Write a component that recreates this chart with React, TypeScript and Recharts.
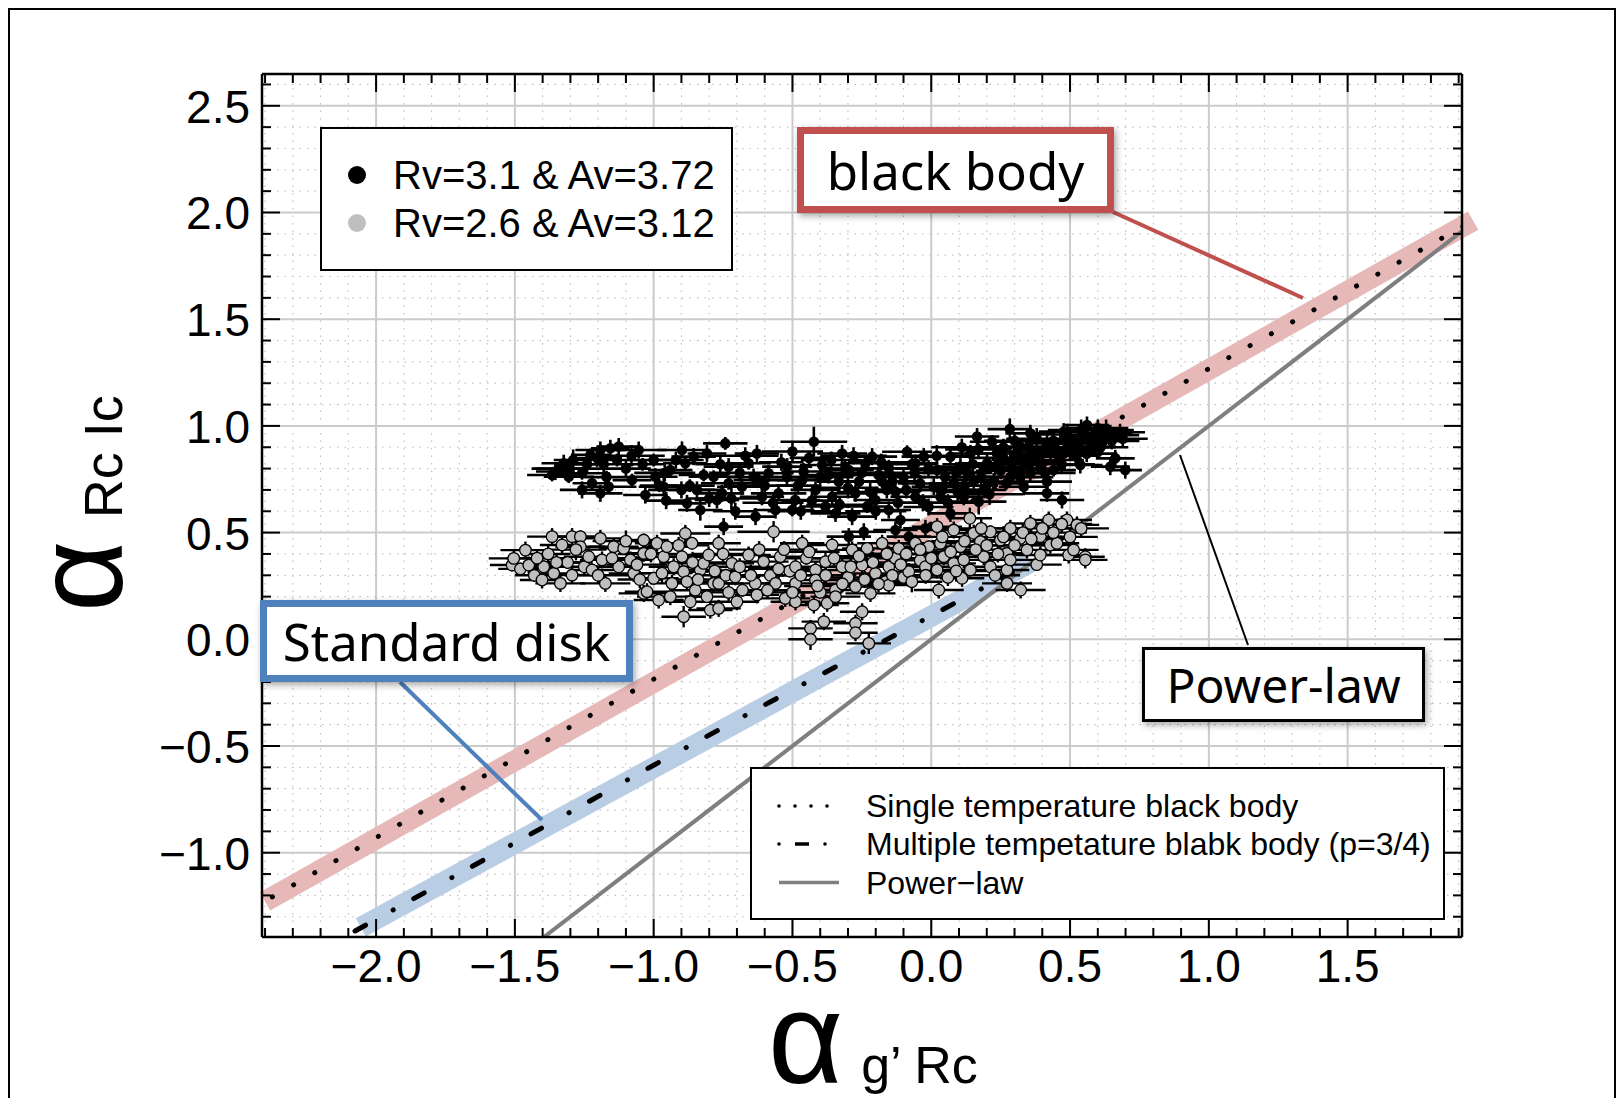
import React from 'react'
import { ComposedChart, XAxis, YAxis, Scatter, Line, ErrorBar, ReferenceLine } from 'recharts'

// axis ranges
const xDomain = [-2.411, 1.912]
const yDomain = [-1.395, 2.649]

const xTicks = [
  -2.4, -2.3, -2.2, -2.1, -2.0, -1.9, -1.8, -1.7, -1.6, -1.5, -1.4, -1.3, -1.2, -1.1, -1.0,
  -0.9, -0.8, -0.7, -0.6, -0.5, -0.4, -0.3, -0.2, -0.1, 0.0, 0.1, 0.2, 0.3, 0.4, 0.5, 0.6,
  0.7, 0.8, 0.9, 1.0, 1.1, 1.2, 1.3, 1.4, 1.5, 1.6, 1.7, 1.8, 1.9,
]
const yTicks = [
  -1.3, -1.2, -1.1, -1.0, -0.9, -0.8, -0.7, -0.6, -0.5, -0.4, -0.3, -0.2, -0.1, 0.0, 0.1,
  0.2, 0.3, 0.4, 0.5, 0.6, 0.7, 0.8, 0.9, 1.0, 1.1, 1.2, 1.3, 1.4, 1.5, 1.6, 1.7, 1.8, 1.9,
  2.0, 2.1, 2.2, 2.3, 2.4, 2.5, 2.6,
]

// [alpha g'Rc, alpha Rc Ic, x err, y err]  Rv=3.1 & Av=3.72
const rv31 = [
  [-1.366, 0.770, 0.09, 0.03], [-1.354, 0.786, 0.07, 0.04], [-1.340, 0.800, 0.10, 0.03],
  [-1.324, 0.825, 0.08, 0.04], [-1.306, 0.762, 0.09, 0.03], [-1.290, 0.840, 0.07, 0.05],
  [-1.258, 0.700, 0.08, 0.04], [-1.258, 0.778, 0.10, 0.03], [-1.240, 0.820, 0.08, 0.04],
  [-1.222, 0.731, 0.07, 0.03], [-1.204, 0.848, 0.09, 0.04], [-1.192, 0.684, 0.08, 0.04],
  [-1.228, 0.864, 0.07, 0.03], [-1.192, 0.887, 0.09, 0.04], [-1.170, 0.760, 0.08, 0.03],
  [-1.156, 0.895, 0.07, 0.04], [-1.162, 0.715, 0.10, 0.03], [-1.132, 0.840, 0.08, 0.03],
  [-1.126, 0.903, 0.08, 0.04], [-1.100, 0.800, 0.09, 0.04], [-1.078, 0.746, 0.07, 0.03],
  [-1.054, 0.887, 0.10, 0.04], [-1.040, 0.820, 0.08, 0.03], [-1.030, 0.676, 0.08, 0.04],
  [-1.000, 0.840, 0.09, 0.03], [-0.994, 0.762, 0.08, 0.04], [-0.980, 0.720, 0.07, 0.03],
  [-0.964, 0.715, 0.09, 0.04], [-0.955, 0.650, 0.08, 0.04], [-0.940, 0.793, 0.08, 0.03],
  [-0.920, 0.840, 0.10, 0.04], [-0.898, 0.887, 0.09, 0.04], [-0.886, 0.825, 0.08, 0.03],
  [-0.880, 0.637, 0.07, 0.04], [-0.870, 0.720, 0.09, 0.03], [-0.856, 0.856, 0.08, 0.04],
  [-0.844, 0.700, 0.10, 0.04], [-0.832, 0.606, 0.08, 0.05], [-0.820, 0.770, 0.09, 0.03],
  [-0.808, 0.871, 0.07, 0.04], [-0.800, 0.660, 0.08, 0.04], [-0.784, 0.762, 0.09, 0.03],
  [-0.772, 0.653, 0.08, 0.04], [-0.760, 0.820, 0.09, 0.04], [-0.754, 0.684, 0.08, 0.04],
  [-0.748, 0.528, 0.07, 0.04], [-0.742, 0.918, 0.08, 0.03], [-0.730, 0.809, 0.09, 0.04],
  [-0.730, 0.731, 0.10, 0.03], [-0.706, 0.600, 0.08, 0.04], [-0.682, 0.715, 0.09, 0.04],
  [-0.658, 0.825, 0.08, 0.03], [-0.640, 0.760, 0.09, 0.04], [-0.633, 0.575, 0.07, 0.04],
  [-0.628, 0.871, 0.08, 0.04], [-0.622, 0.746, 0.09, 0.03], [-0.610, 0.668, 0.08, 0.04],
  [-0.586, 0.778, 0.09, 0.04], [-0.561, 0.606, 0.08, 0.04], [-0.550, 0.684, 0.10, 0.03],
  [-0.540, 0.830, 0.08, 0.04], [-0.519, 0.809, 0.09, 0.04], [-0.501, 0.606, 0.08, 0.03],
  [-0.490, 0.653, 0.09, 0.04], [-0.480, 0.720, 0.08, 0.04], [-0.465, 0.746, 0.09, 0.03],
  [-0.460, 0.786, 0.08, 0.04], [-0.440, 0.850, 0.07, 0.03], [-0.423, 0.926, 0.12, 0.07],
  [-0.417, 0.700, 0.09, 0.04], [-0.393, 0.817, 0.08, 0.04], [-0.381, 0.622, 0.09, 0.03],
  [-0.370, 0.770, 0.10, 0.04], [-0.357, 0.668, 0.08, 0.04], [-0.345, 0.590, 0.09, 0.04],
  [-0.333, 0.739, 0.08, 0.03], [-0.321, 0.871, 0.09, 0.04], [-0.310, 0.800, 0.08, 0.04],
  [-0.297, 0.793, 0.09, 0.03], [-0.297, 0.481, 0.08, 0.04], [-0.285, 0.575, 0.09, 0.04],
  [-0.273, 0.684, 0.08, 0.04], [-0.260, 0.740, 0.09, 0.03], [-0.243, 0.504, 0.08, 0.04],
  [-0.237, 0.825, 0.09, 0.04], [-0.231, 0.622, 0.08, 0.03], [-0.213, 0.856, 0.09, 0.04],
  [-0.201, 0.653, 0.08, 0.04], [-0.190, 0.770, 0.10, 0.04], [-0.177, 0.739, 0.09, 0.03],
  [-0.160, 0.700, 0.08, 0.04], [-0.153, 0.801, 0.09, 0.04], [-0.153, 0.606, 0.08, 0.04],
  [-0.129, 0.692, 0.09, 0.03], [-0.129, 0.512, 0.08, 0.04], [-0.111, 0.559, 0.07, 0.04],
  [-0.100, 0.760, 0.08, 0.04], [-0.087, 0.879, 0.09, 0.03], [-0.081, 0.481, 0.08, 0.04],
  [-0.070, 0.820, 0.09, 0.04], [-0.057, 0.825, 0.08, 0.04], [-0.057, 0.668, 0.09, 0.03],
  [-0.040, 0.730, 0.08, 0.04], [-0.027, 0.856, 0.08, 0.04], [-0.021, 0.520, 0.08, 0.04],
  [-0.010, 0.620, 0.09, 0.04], [0.009, 0.715, 0.08, 0.04], [0.021, 0.793, 0.09, 0.04],
  [0.033, 0.668, 0.08, 0.03], [0.050, 0.760, 0.09, 0.04], [0.069, 0.856, 0.08, 0.04],
  [0.069, 0.590, 0.08, 0.04], [0.081, 0.731, 0.09, 0.03], [0.095, 0.690, 0.08, 0.04],
  [0.105, 0.809, 0.09, 0.04], [0.117, 0.668, 0.08, 0.04], [0.130, 0.780, 0.09, 0.03],
  [0.141, 0.871, 0.08, 0.04], [0.153, 0.746, 0.09, 0.04], [0.165, 0.950, 0.08, 0.04],
  [0.171, 0.645, 0.10, 0.06], [0.190, 0.700, 0.08, 0.04], [0.201, 0.825, 0.09, 0.04],
  [0.219, 0.926, 0.08, 0.03], [0.225, 0.739, 0.09, 0.04], [0.237, 0.871, 0.08, 0.04],
  [0.250, 0.790, 0.09, 0.04], [0.270, 0.730, 0.08, 0.03], [0.283, 0.985, 0.08, 0.05],
  [0.285, 0.762, 0.09, 0.04], [0.297, 0.840, 0.08, 0.04], [0.310, 0.880, 0.09, 0.04],
  [0.321, 0.903, 0.08, 0.04], [0.333, 0.715, 0.09, 0.04], [0.340, 0.820, 0.08, 0.03],
  [0.357, 0.965, 0.09, 0.04], [0.357, 0.778, 0.08, 0.04], [0.370, 0.860, 0.09, 0.04],
  [0.381, 0.856, 0.08, 0.04], [0.395, 0.800, 0.09, 0.03], [0.417, 0.918, 0.08, 0.04],
  [0.417, 0.739, 0.09, 0.04], [0.417, 0.684, 0.08, 0.04], [0.430, 0.880, 0.09, 0.04],
  [0.441, 0.793, 0.08, 0.03], [0.460, 0.840, 0.09, 0.04], [0.471, 0.653, 0.08, 0.04],
  [0.477, 0.973, 0.09, 0.04], [0.477, 0.871, 0.08, 0.04], [0.495, 0.920, 0.09, 0.03],
  [0.513, 0.918, 0.08, 0.04], [0.520, 0.860, 0.09, 0.04], [0.537, 0.817, 0.08, 0.04],
  [0.550, 0.950, 0.09, 0.04], [0.561, 1.004, 0.08, 0.04], [0.575, 0.900, 0.09, 0.03],
  [0.585, 0.903, 0.08, 0.04], [0.600, 0.950, 0.08, 0.04], [0.620, 0.930, 0.09, 0.04],
  [0.645, 0.965, 0.08, 0.04], [0.645, 0.809, 0.07, 0.04], [0.663, 0.848, 0.07, 0.04],
  [0.669, 0.957, 0.08, 0.03], [0.699, 0.793, 0.06, 0.04],
  [-1.310, 0.800, 0.12, 0.04], [-1.180, 0.820, 0.11, 0.04], [-1.080, 0.860, 0.12, 0.05],
  [-0.960, 0.780, 0.11, 0.04], [-0.900, 0.700, 0.12, 0.04], [-0.720, 0.660, 0.12, 0.05],
  [-0.690, 0.780, 0.11, 0.04], [-0.670, 0.860, 0.12, 0.04], [-0.600, 0.720, 0.12, 0.05],
  [-0.570, 0.640, 0.11, 0.04], [-0.520, 0.760, 0.12, 0.04], [-0.500, 0.880, 0.11, 0.05],
  [-0.470, 0.600, 0.12, 0.04], [-0.430, 0.650, 0.11, 0.04], [-0.400, 0.760, 0.12, 0.05],
  [-0.360, 0.840, 0.11, 0.04], [-0.330, 0.630, 0.12, 0.04], [-0.300, 0.710, 0.11, 0.05],
  [-0.280, 0.860, 0.12, 0.04], [-0.250, 0.780, 0.11, 0.04], [-0.220, 0.690, 0.12, 0.05],
  [-0.200, 0.600, 0.11, 0.04], [-0.180, 0.830, 0.12, 0.04], [-0.140, 0.740, 0.11, 0.05],
  [-0.120, 0.640, 0.12, 0.04], [-0.090, 0.700, 0.11, 0.04], [-0.060, 0.780, 0.12, 0.05],
  [-0.030, 0.640, 0.11, 0.04], [-0.010, 0.800, 0.12, 0.04], [0.020, 0.860, 0.11, 0.05],
  [0.040, 0.700, 0.12, 0.04], [0.060, 0.640, 0.11, 0.04], [0.090, 0.780, 0.12, 0.05],
  [0.110, 0.900, 0.11, 0.04], [0.120, 0.720, 0.12, 0.04], [0.150, 0.820, 0.11, 0.05],
  [0.170, 0.890, 0.12, 0.04], [0.180, 0.760, 0.11, 0.04], [0.210, 0.680, 0.12, 0.05],
  [0.230, 0.810, 0.11, 0.04], [0.260, 0.900, 0.12, 0.04], [0.260, 0.850, 0.11, 0.05],
  [0.290, 0.800, 0.12, 0.04], [0.300, 0.930, 0.11, 0.04], [0.320, 0.760, 0.12, 0.05],
  [0.350, 0.900, 0.11, 0.04], [0.360, 0.830, 0.12, 0.04], [0.380, 0.940, 0.11, 0.05],
  [0.400, 0.870, 0.12, 0.04], [0.410, 0.780, 0.11, 0.04], [0.440, 0.930, 0.12, 0.05],
  [0.450, 0.890, 0.11, 0.04], [0.470, 0.820, 0.12, 0.04], [0.490, 0.960, 0.11, 0.05],
  [0.500, 0.880, 0.12, 0.04], [0.530, 0.900, 0.11, 0.04], [0.540, 0.980, 0.12, 0.05],
  [0.560, 0.870, 0.11, 0.04], [0.580, 0.940, 0.12, 0.04], [0.600, 0.990, 0.11, 0.04],
  [0.610, 0.900, 0.10, 0.04], [0.630, 0.980, 0.10, 0.05], [0.650, 0.930, 0.10, 0.04],
  [0.680, 0.970, 0.09, 0.04], [0.690, 0.940, 0.09, 0.04],
]

// Rv=2.6 & Av=3.12
const rv26 = [
  [-1.510, 0.348, 0.08, 0.03], [-1.504, 0.379, 0.09, 0.04], [-1.480, 0.330, 0.08, 0.03],
  [-1.462, 0.418, 0.09, 0.04], [-1.450, 0.348, 0.08, 0.04], [-1.430, 0.300, 0.07, 0.03],
  [-1.402, 0.278, 0.08, 0.04], [-1.396, 0.340, 0.09, 0.03], [-1.380, 0.400, 0.08, 0.04],
  [-1.366, 0.481, 0.09, 0.04], [-1.360, 0.309, 0.08, 0.03], [-1.336, 0.262, 0.09, 0.04],
  [-1.330, 0.442, 0.08, 0.04], [-1.310, 0.360, 0.09, 0.03], [-1.294, 0.481, 0.08, 0.04],
  [-1.294, 0.301, 0.09, 0.04], [-1.264, 0.481, 0.08, 0.03], [-1.264, 0.434, 0.09, 0.04],
  [-1.250, 0.340, 0.08, 0.04], [-1.234, 0.387, 0.09, 0.04], [-1.222, 0.325, 0.08, 0.03],
  [-1.192, 0.473, 0.09, 0.04], [-1.186, 0.372, 0.08, 0.04], [-1.174, 0.262, 0.09, 0.04],
  [-1.144, 0.434, 0.09, 0.04], [-1.126, 0.340, 0.08, 0.04], [-1.108, 0.426, 0.09, 0.03],
  [-1.084, 0.372, 0.08, 0.04], [-1.072, 0.309, 0.09, 0.04], [-1.050, 0.280, 0.08, 0.04],
  [-1.036, 0.465, 0.09, 0.03], [-1.036, 0.403, 0.08, 0.04], [-1.036, 0.215, 0.09, 0.04],
  [-1.024, 0.223, 0.08, 0.04], [-1.000, 0.286, 0.09, 0.03], [-0.988, 0.450, 0.08, 0.04],
  [-0.982, 0.184, 0.09, 0.04], [-0.964, 0.387, 0.08, 0.04], [-0.952, 0.434, 0.09, 0.03],
  [-0.934, 0.262, 0.08, 0.04], [-0.928, 0.340, 0.09, 0.04], [-0.898, 0.387, 0.08, 0.04],
  [-0.892, 0.317, 0.09, 0.03], [-0.892, 0.106, 0.08, 0.05], [-0.886, 0.496, 0.09, 0.04],
  [-0.880, 0.270, 0.08, 0.04], [-0.868, 0.176, 0.09, 0.04], [-0.862, 0.450, 0.08, 0.03],
  [-0.850, 0.230, 0.09, 0.04], [-0.832, 0.325, 0.08, 0.04], [-0.820, 0.356, 0.09, 0.04],
  [-0.808, 0.200, 0.08, 0.03], [-0.802, 0.395, 0.09, 0.04], [-0.796, 0.137, 0.08, 0.04],
  [-0.784, 0.262, 0.09, 0.04], [-0.766, 0.450, 0.08, 0.04], [-0.766, 0.262, 0.09, 0.04],
  [-0.766, 0.145, 0.08, 0.04], [-0.740, 0.300, 0.09, 0.03], [-0.718, 0.356, 0.08, 0.04],
  [-0.706, 0.293, 0.09, 0.04], [-0.700, 0.176, 0.08, 0.04], [-0.680, 0.230, 0.09, 0.03],
  [-0.658, 0.395, 0.08, 0.04], [-0.634, 0.262, 0.09, 0.04], [-0.628, 0.208, 0.08, 0.04],
  [-0.604, 0.364, 0.09, 0.03], [-0.580, 0.300, 0.08, 0.04], [-0.568, 0.504, 0.13, 0.05],
  [-0.561, 0.262, 0.09, 0.04], [-0.544, 0.387, 0.08, 0.04], [-0.526, 0.192, 0.09, 0.04],
  [-0.510, 0.320, 0.08, 0.03], [-0.489, 0.340, 0.09, 0.04], [-0.489, 0.262, 0.08, 0.04],
  [-0.489, 0.176, 0.09, 0.04], [-0.465, 0.450, 0.08, 0.04], [-0.450, 0.380, 0.09, 0.03],
  [-0.435, 0.051, 0.08, 0.04], [-0.435, 0.000, 0.08, 0.05], [-0.423, 0.161, 0.09, 0.04],
  [-0.417, 0.325, 0.08, 0.04], [-0.417, 0.278, 0.09, 0.04], [-0.400, 0.220, 0.08, 0.03],
  [-0.387, 0.083, 0.08, 0.04], [-0.381, 0.364, 0.09, 0.04], [-0.375, 0.169, 0.08, 0.04],
  [-0.357, 0.442, 0.09, 0.04], [-0.345, 0.231, 0.08, 0.03], [-0.345, 0.200, 0.09, 0.04],
  [-0.321, 0.340, 0.08, 0.04], [-0.300, 0.290, 0.09, 0.04], [-0.285, 0.419, 0.08, 0.04],
  [-0.273, 0.247, 0.09, 0.03], [-0.273, 0.075, 0.08, 0.04], [-0.273, 0.031, 0.08, 0.04],
  [-0.249, 0.348, 0.09, 0.04], [-0.249, 0.129, 0.08, 0.04], [-0.231, 0.426, 0.09, 0.03],
  [-0.225, -0.019, 0.08, 0.05], [-0.219, 0.215, 0.09, 0.04], [-0.201, 0.309, 0.08, 0.04],
  [-0.177, 0.450, 0.09, 0.04], [-0.165, 0.270, 0.08, 0.03], [-0.153, 0.340, 0.09, 0.04],
  [-0.153, 0.254, 0.08, 0.04], [-0.130, 0.380, 0.09, 0.04], [-0.117, 0.426, 0.08, 0.04],
  [-0.100, 0.290, 0.09, 0.03], [-0.081, 0.317, 0.08, 0.04], [-0.057, 0.450, 0.09, 0.04],
  [-0.040, 0.370, 0.08, 0.04], [-0.021, 0.340, 0.09, 0.04], [-0.009, 0.434, 0.08, 0.03],
  [0.021, 0.528, 0.09, 0.04], [0.021, 0.325, 0.08, 0.04], [0.027, 0.231, 0.09, 0.04],
  [0.033, 0.450, 0.08, 0.03], [0.045, 0.387, 0.09, 0.04], [0.060, 0.290, 0.08, 0.04],
  [0.081, 0.512, 0.09, 0.04], [0.081, 0.356, 0.08, 0.03], [0.105, 0.434, 0.09, 0.04],
  [0.111, 0.286, 0.08, 0.04], [0.117, 0.372, 0.09, 0.04], [0.139, 0.567, 0.08, 0.05],
  [0.141, 0.325, 0.09, 0.03], [0.153, 0.497, 0.08, 0.04], [0.177, 0.458, 0.09, 0.04],
  [0.189, 0.387, 0.08, 0.04], [0.213, 0.504, 0.09, 0.03], [0.213, 0.340, 0.08, 0.04],
  [0.230, 0.300, 0.09, 0.04], [0.249, 0.465, 0.08, 0.04], [0.273, 0.403, 0.09, 0.03],
  [0.273, 0.325, 0.08, 0.04], [0.273, 0.262, 0.09, 0.04], [0.285, 0.520, 0.08, 0.04],
  [0.285, 0.372, 0.09, 0.04], [0.321, 0.473, 0.08, 0.03], [0.322, 0.231, 0.09, 0.04],
  [0.345, 0.419, 0.09, 0.04], [0.357, 0.543, 0.08, 0.04], [0.380, 0.350, 0.09, 0.03],
  [0.393, 0.481, 0.08, 0.04], [0.393, 0.395, 0.09, 0.04], [0.423, 0.559, 0.08, 0.04],
  [0.429, 0.442, 0.09, 0.04], [0.453, 0.450, 0.08, 0.03], [0.489, 0.559, 0.09, 0.04],
  [0.495, 0.395, 0.08, 0.04], [0.513, 0.419, 0.09, 0.04], [0.525, 0.536, 0.08, 0.04],
  [0.555, 0.387, 0.07, 0.04], [0.555, 0.372, 0.08, 0.04],
  [-1.420, 0.380, 0.11, 0.04], [-1.350, 0.360, 0.12, 0.04], [-1.280, 0.420, 0.11, 0.05],
  [-1.200, 0.300, 0.12, 0.04], [-1.150, 0.380, 0.11, 0.04], [-1.100, 0.460, 0.12, 0.05],
  [-1.060, 0.350, 0.11, 0.04], [-1.010, 0.400, 0.12, 0.04], [-0.970, 0.310, 0.11, 0.05],
  [-0.940, 0.200, 0.12, 0.04], [-0.910, 0.440, 0.11, 0.04], [-0.860, 0.360, 0.12, 0.05],
  [-0.840, 0.280, 0.11, 0.04], [-0.780, 0.320, 0.12, 0.04], [-0.750, 0.400, 0.11, 0.05],
  [-0.730, 0.220, 0.12, 0.04], [-0.690, 0.340, 0.11, 0.04], [-0.650, 0.300, 0.12, 0.05],
  [-0.620, 0.420, 0.11, 0.04], [-0.590, 0.230, 0.12, 0.04], [-0.550, 0.330, 0.11, 0.05],
  [-0.530, 0.420, 0.12, 0.04], [-0.500, 0.220, 0.11, 0.04], [-0.470, 0.300, 0.12, 0.05],
  [-0.440, 0.410, 0.11, 0.04], [-0.410, 0.250, 0.12, 0.04], [-0.380, 0.300, 0.11, 0.05],
  [-0.350, 0.380, 0.12, 0.04], [-0.320, 0.260, 0.11, 0.04], [-0.290, 0.340, 0.12, 0.05],
  [-0.260, 0.390, 0.11, 0.04], [-0.240, 0.280, 0.12, 0.04], [-0.210, 0.360, 0.11, 0.05],
  [-0.190, 0.260, 0.12, 0.04], [-0.160, 0.400, 0.11, 0.04], [-0.140, 0.300, 0.12, 0.05],
  [-0.110, 0.350, 0.11, 0.04], [-0.090, 0.400, 0.12, 0.04], [-0.070, 0.270, 0.11, 0.05],
  [-0.040, 0.420, 0.12, 0.04], [-0.020, 0.300, 0.11, 0.04], [0.000, 0.380, 0.12, 0.05],
  [0.040, 0.480, 0.11, 0.04], [0.070, 0.410, 0.12, 0.04], [0.090, 0.320, 0.11, 0.05],
  [0.120, 0.460, 0.12, 0.04], [0.160, 0.420, 0.11, 0.04], [0.180, 0.520, 0.12, 0.05],
  [0.200, 0.440, 0.11, 0.04], [0.240, 0.400, 0.12, 0.04], [0.260, 0.480, 0.11, 0.05],
  [0.300, 0.440, 0.12, 0.04], [0.330, 0.500, 0.11, 0.04], [0.360, 0.470, 0.12, 0.05],
  [0.400, 0.520, 0.11, 0.04], [0.440, 0.500, 0.12, 0.04], [0.470, 0.540, 0.11, 0.04],
  [0.500, 0.480, 0.10, 0.04], [0.540, 0.520, 0.10, 0.04],
]

// model curves [x, y]
const singleTempBB = [[-2.45, -1.264], [-1.0, -0.187], [0.0, 0.541], [1.0, 1.268], [1.95, 1.96]]
const multiTempBB = [[-2.15, -1.42], [-1.4, -0.882], [-1.0, -0.59], [-0.5, -0.237], [0.0, 0.11], [0.333, 0.343]]
const powerLaw = [[-1.6, -1.6], [2.0, 2.0]]

// highlight bands drawn under the curves
const bbBand = [[-2.4, -1.228], [1.952, 1.962]]
const diskBand = [[-2.055, -1.35], [0.355, 0.36]]

const W = 1608
const H = 1090
const M = { top: 66, right: 154, bottom: 101, left: 194 }
const PLOT_TOP = M.top
const PLOT_RIGHT = W - M.right
const SANS = '"Liberation Sans", Arial, Helvetica, sans-serif'
const CALLOUT = '"Noto Sans", "Liberation Sans", sans-serif'
const RED = '#c0504d'
const BLUE = '#4f81bd'

const toXY = (pts: number[][]) => pts.map(([x, y]) => ({ x, y }))
const toErr = (pts: number[][]) => pts.map(([x, y, ex, ey]) => ({ x, y, ex, ey }))
const isMajor = (v: number) => Math.abs(v * 2 - Math.round(v * 2)) < 1e-6
const fmt = (v: number) => (Math.abs(v) < 1e-9 ? '0.0' : v.toFixed(1).replace('-', '\u2212'))

function XTick(props: any) {
  const { x, y, payload } = props
  const major = isMajor(payload.value)
  const len = major ? 18 : 9
  return (
    <g>
      <line x1={x} y1={y} x2={x} y2={y - len} stroke="#000" strokeWidth={2} />
      <line x1={x} y1={PLOT_TOP} x2={x} y2={PLOT_TOP + len} stroke="#000" strokeWidth={2} />
      {major && (
        <text x={x} y={y + 45} textAnchor="middle" fontSize={46} fontFamily={SANS} fill="#000">
          {fmt(payload.value)}
        </text>
      )}
    </g>
  )
}

function YTick(props: any) {
  const { x, y, payload } = props
  const major = isMajor(payload.value)
  const len = major ? 18 : 9
  return (
    <g>
      <line x1={x} y1={y} x2={x + len} y2={y} stroke="#000" strokeWidth={2} />
      <line x1={PLOT_RIGHT} y1={y} x2={PLOT_RIGHT - len} y2={y} stroke="#000" strokeWidth={2} />
      {major && (
        <text x={x - 12} y={y + 17} textAnchor="end" fontSize={46} fontFamily={SANS} fill="#000">
          {fmt(payload.value)}
        </text>
      )}
    </g>
  )
}

const blackDot = (p: any) => <circle cx={p.cx} cy={p.cy} r={5.3} fill="#000" />
const grayDot = (p: any) => <circle cx={p.cx} cy={p.cy} r={5.8} fill="#bebebe" stroke="#000" strokeWidth={1.3} />

const boxShadow = '2px 3px 7px rgba(0,0,0,0.35)'

export default function App() {
  return (
    <div style={{ position: 'relative', width: W, height: H, fontFamily: SANS, background: '#fff' }}>
      <div
        style={{
          position: 'absolute', left: 0, top: 0, width: W, height: H, boxSizing: 'border-box',
          borderTop: '2px solid #000', borderLeft: '2px solid #000', borderRight: '2px solid #000',
        }}
      />
      <div style={{ position: 'absolute', left: 0, top: 0 }}>
        <ComposedChart width={W} height={H} margin={M}>
          {xTicks.map((v) => (
            <ReferenceLine key={'gx' + v} x={v} stroke={isMajor(v) ? '#cbcbcb' : '#c2c2c2'}
              strokeWidth={isMajor(v) ? 2 : 1.2} strokeDasharray={isMajor(v) ? undefined : '1.5 6'} zIndex={-100} />
          ))}
          {yTicks.map((v) => (
            <ReferenceLine key={'gy' + v} y={v} stroke={isMajor(v) ? '#cbcbcb' : '#c2c2c2'}
              strokeWidth={isMajor(v) ? 2 : 1.2} strokeDasharray={isMajor(v) ? undefined : '1.5 6'} zIndex={-100} />
          ))}
          <ReferenceLine segment={toXY(bbBand)} stroke="#e6b9b8" strokeWidth={21} ifOverflow="visible" zIndex={-50} />
          <ReferenceLine segment={toXY(diskBand)} stroke="#b9cde5" strokeWidth={21} ifOverflow="visible" zIndex={-50} />
          <Line data={toXY(powerLaw)} dataKey="y" type="linear" stroke="#7f7f7f" strokeWidth={4}
            dot={false} activeDot={false} isAnimationActive={false} zIndex={50} />
          <Line data={toXY(singleTempBB)} dataKey="y" type="linear" stroke="#000" strokeWidth={5}
            strokeDasharray="0.1 24.3" strokeLinecap="round" dot={false} activeDot={false} isAnimationActive={false} zIndex={50} />
          <Line data={toXY(multiTempBB)} dataKey="y" type="linear" stroke="#000" strokeWidth={5}
            strokeDasharray="0.1 23.4 12 31.5" strokeLinecap="round" dot={false} activeDot={false} isAnimationActive={false} zIndex={50} />
          <Scatter data={toErr(rv31)} shape={blackDot} isAnimationActive={false}>
            <ErrorBar dataKey="ex" direction="x" width={0} stroke="#000" strokeWidth={2.6} isAnimationActive={false} />
            <ErrorBar dataKey="ey" direction="y" width={0} stroke="#000" strokeWidth={2.6} isAnimationActive={false} />
          </Scatter>
          <Scatter data={toErr(rv26)} shape={grayDot} isAnimationActive={false}>
            <ErrorBar dataKey="ex" direction="x" width={0} stroke="#000" strokeWidth={2.4} isAnimationActive={false} />
            <ErrorBar dataKey="ey" direction="y" width={0} stroke="#000" strokeWidth={2.4} isAnimationActive={false} />
          </Scatter>
          <ReferenceLine y={yDomain[1]} stroke="#000" strokeWidth={2.5} zIndex={1000} />
          <ReferenceLine x={xDomain[1]} stroke="#000" strokeWidth={2.5} zIndex={1000} />
          <XAxis type="number" dataKey="x" domain={xDomain} allowDataOverflow ticks={xTicks} interval={0}
            tick={XTick} tickLine={false} tickSize={0} tickMargin={0} height={60}
            axisLine={{ stroke: '#000', strokeWidth: 2.5 }} />
          <YAxis type="number" dataKey="y" domain={yDomain} allowDataOverflow ticks={yTicks} interval={0}
            tick={YTick} tickLine={false} tickSize={0} tickMargin={0} width={60}
            axisLine={{ stroke: '#000', strokeWidth: 2.5 }} />
        </ComposedChart>
      </div>

      <svg width={1624} height={1098} style={{ position: 'absolute', left: -8, top: -8, pointerEvents: 'none' }}>
        <line x1={1113} y1={212} x2={1303} y2={298} stroke={RED} strokeWidth={4} />
        <line x1={400} y1={682} x2={542} y2={820} stroke={BLUE} strokeWidth={4} />
        <line x1={1248} y1={645} x2={1180} y2={455} stroke="#000" strokeWidth={2} />
        <text x={768} y={1083} fontFamily={SANS} fontSize={130} fill="#000">
          α<tspan fontSize={52} dx={18}>g’ Rc</tspan>
        </text>
        <text transform="translate(122 612) rotate(-90)" fontFamily={SANS} fontSize={124} fill="#000">
          α<tspan fontSize={54} dx={22}>Rc Ic</tspan>
        </text>
      </svg>

      {/* data legend */}
      <div style={{ position: 'absolute', left: 312, top: 119, width: 413, height: 144, border: '2px solid #000',
        background: '#fff', boxSizing: 'border-box', fontSize: 40 }}>
        <svg width={409} height={140} style={{ position: 'absolute', left: 0, top: 0 }}>
          <circle cx={35} cy={46} r={9} fill="#000" />
          <circle cx={35} cy={94} r={9} fill="#bfbfbf" />
        </svg>
        <div style={{ position: 'absolute', left: 71, top: 26, lineHeight: '40px', whiteSpace: 'nowrap' }}>Rv=3.1 &amp; Av=3.72</div>
        <div style={{ position: 'absolute', left: 71, top: 74, lineHeight: '40px', whiteSpace: 'nowrap' }}>Rv=2.6 &amp; Av=3.12</div>
      </div>

      {/* model legend */}
      <div style={{ position: 'absolute', left: 742, top: 759, width: 695, height: 153, border: '2px solid #000',
        background: '#fff', boxSizing: 'border-box', fontSize: 32 }}>
        <svg width={691} height={149} style={{ position: 'absolute', left: 0, top: 0 }}>
          {[27, 43, 59, 75].map((cx) => <circle key={cx} cx={cx} cy={37} r={1.8} fill="#000" />)}
          <circle cx={27} cy={75} r={1.8} fill="#000" />
          <line x1={43} y1={75} x2={57} y2={75} stroke="#000" strokeWidth={3.5} />
          <circle cx={73} cy={75} r={1.8} fill="#000" />
          <line x1={27} y1={113.5} x2={87} y2={113.5} stroke="#808080" strokeWidth={3.5} />
        </svg>
        <div style={{ position: 'absolute', left: 114, top: 20, lineHeight: '34px', whiteSpace: 'nowrap' }}>Single temperature black body</div>
        <div style={{ position: 'absolute', left: 114, top: 58, lineHeight: '34px', whiteSpace: 'nowrap' }}>Multiple tempetature blabk body (p=3/4)</div>
        <div style={{ position: 'absolute', left: 114, top: 96.5, lineHeight: '34px', whiteSpace: 'nowrap' }}>Power−law</div>
      </div>

      {/* callouts */}
      <div style={{ position: 'absolute', left: 789, top: 119, width: 317, height: 86, border: `7px solid ${RED}`,
        background: '#fff', boxSizing: 'border-box', boxShadow, display: 'flex', alignItems: 'center',
        justifyContent: 'center', fontFamily: CALLOUT, fontSize: 51, lineHeight: 1 }}>black body</div>
      <div style={{ position: 'absolute', left: 252, top: 592, width: 373, height: 82, border: `7px solid ${BLUE}`,
        background: '#fff', boxSizing: 'border-box', boxShadow, display: 'flex', alignItems: 'center',
        justifyContent: 'center', fontFamily: CALLOUT, fontSize: 51, lineHeight: 1 }}>Standard disk</div>
      <div style={{ position: 'absolute', left: 1134, top: 639, width: 283, height: 75, border: '3px solid #000',
        background: '#fff', boxSizing: 'border-box', boxShadow, display: 'flex', alignItems: 'center',
        justifyContent: 'center', fontFamily: CALLOUT, fontSize: 48, lineHeight: 1 }}>Power-law</div>
    </div>
  )
}
